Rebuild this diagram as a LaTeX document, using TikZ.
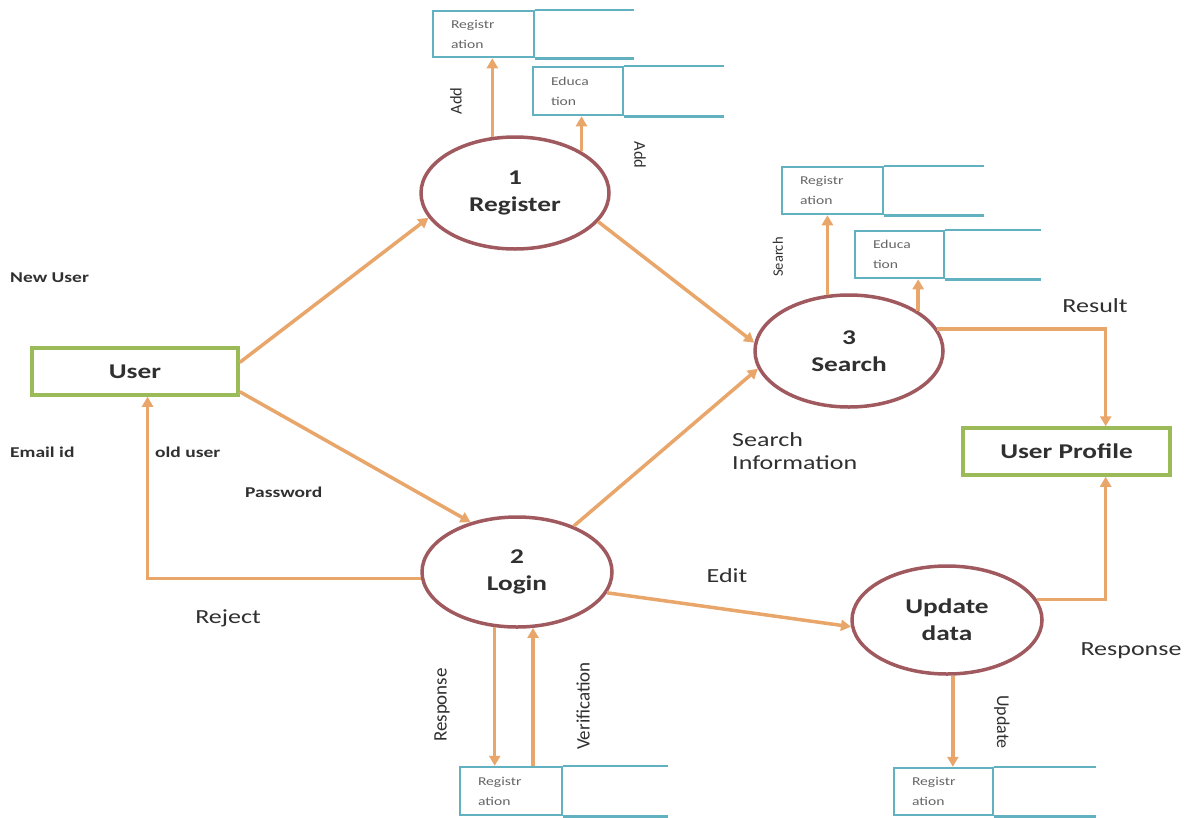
\documentclass[tikz,border=0pt]{standalone}
\usepackage{fontspec}
\setmainfont{Carlito}[FakeStretch=1.3]
\newfontfamily\rotfont{Carlito}
\usetikzlibrary{shapes.geometric,arrows.meta,calc}
\definecolor{flowcol}{HTML}{E9A66A}
\definecolor{proccol}{HTML}{A05A5F}
\definecolor{storecol}{HTML}{62B1C0}
\definecolor{entcol}{HTML}{9BBB59}
\definecolor{txt}{HTML}{303030}
\definecolor{stxt}{HTML}{666666}
\begin{document}
\begin{tikzpicture}[x=1pt,y=-1pt,
 proc/.style={ellipse,draw=proccol,line width=3.5pt,fill=white,inner sep=0pt,align=center,font=\bfseries\fontsize{21}{27}\selectfont,text=txt},
 ent/.style={rectangle,draw=entcol,line width=3.5pt,fill=white,inner sep=0pt,font=\bfseries\fontsize{21}{25}\selectfont,text=txt},
 storebox/.style={rectangle,draw=storecol,line width=2.5pt,inner xsep=18pt,inner ysep=0pt,align=left,font=\fontsize{12}{20}\selectfont,text=stxt},
 storeline/.style={draw=storecol,line width=2.5pt},
 flow/.style={draw=flowcol,line width=3.5pt,-{Triangle[length=10pt,width=11pt]}},
 lab/.style={font=\fontsize{20}{23}\selectfont,text=txt},
 small/.style={font=\bfseries\fontsize{15}{18}\selectfont,text=txt},
 rlab/.style={font=\rotfont\fontsize{19}{22}\selectfont,text=txt}]
\useasboundingbox[fill=white] (0,0) rectangle (1190,817);

% processes
\node[proc,minimum width=188pt,minimum height=112pt] (reg) at (515,193) {1\\Register};
\node[proc,minimum width=190pt,minimum height=110pt] (login) at (517,572) {2\\Login};
\node[proc,minimum width=188pt,minimum height=112pt] (search) at (849,351) {3\\Search};
\node[proc,minimum width=190pt,minimum height=108pt] (upd) at (947,620) {Update\\data};

% entities
\node[ent,minimum width=206pt,minimum height=47pt] (user) at (135,371.5) {User};
\node[ent,minimum width=207pt,minimum height=47pt] (prof) at (1066.5,451.5) {User Profile};

% data stores
\node[storebox,text width=65pt,minimum height=46pt] (sA) at (483.5,34) {Registr\\ation};
\draw[storeline] (sA.north east) -- ++(99,0) (sA.south east) -- ++(99,0);
\node[storebox,text width=54pt,minimum height=48pt] (sB) at (578,91) {Educa\\tion};
\draw[storeline] (sB.north east) -- ++(100,0) (sB.south east) -- ++(100,0);
\node[storebox,text width=65pt,minimum height=47pt] (sC) at (832.5,190.5) {Registr\\ation};
\draw[storeline] (sC.north east) -- ++(100,0) (sC.south east) -- ++(100,0);
\node[storebox,text width=53pt,minimum height=47pt] (sD) at (899.5,254.5) {Educa\\tion};
\draw[storeline] (sD.north east) -- ++(96,0) (sD.south east) -- ++(96,0);
\node[storebox,text width=66pt,minimum height=48pt] (sE) at (511,791) {Registr\\ation};
\draw[storeline] (sE.north east) -- ++(105,0) (sE.south east) -- ++(105,0);
\node[storebox,text width=63pt,minimum height=47pt] (sF) at (943.5,791.5) {Registr\\ation};
\draw[storeline] (sF.north east) -- ++(102,0) (sF.south east) -- ++(102,0);

% helper coordinates
\coordinate (ur) at ($(user.north east)!0.32!(user.south east)$);
\coordinate (ul) at ($(user.north east)!0.9!(user.south east)$);
\coordinate (ub) at ($(user.south west)!0.56!(user.south east)$);
\coordinate (pt) at ($(prof.north west)!0.686!(prof.north east)$);
\coordinate (pb) at ($(prof.south west)!0.686!(prof.south east)$);

% flows
\draw[flow] (reg.112) -- (reg.112 |- sA.south);
\draw[flow] (reg.32) -- (reg.32 |- sB.south);
\draw[flow] (search.111) -- (search.111 |- sC.south);
\draw[flow] (search.30) -- (search.30 |- sD.south);
\draw[flow] (ur) -- (reg.196);
\draw[flow] (ul) -- (login.133);
\draw[flow] (reg.-19) -- (search.175);
\draw[flow] (login.39) -- (search.191);
\draw[flow] (search.14) -| (pt);
\draw[flow] (upd.13) -| (pb);
\draw[flow] (login.184) -| (ub);
\draw[flow] (login.-13) -- (upd.184);
\draw[flow] (login.248) -- (login.248 |- sE.north);
\draw[flow] (login.286 |- sE.north) -- (login.286);
\draw[flow] (upd.276) -- (upd.276 |- sF.north);

% labels
\node[rlab,font=\rotfont\fontsize{16.5}{19}\selectfont,rotate=90] (lAdd1) at (456,101) {Add};
\node[rlab,font=\rotfont\fontsize{16.5}{19}\selectfont,rotate=-90] (lAdd2) at (640,155) {Add};
\node[rlab,font=\rotfont\fontsize{14.5}{17}\selectfont,rotate=90] (lSearch) at (778,257) {Search};
\node[lab] (lResult) at (1095,306) {Result};
\node[small,anchor=west,inner sep=0pt] (lNew) at (10,278) {New User};
\node[small,anchor=west,inner sep=0pt] (lEmail) at (10,452) {Email id};
\node[small,anchor=west,inner sep=0pt] (lOld) at (155,452) {old user};
\node[small,anchor=west,inner sep=0pt] (lPass) at (245,492) {Password};
\node[lab,anchor=west,align=left,inner sep=0pt] (lInfo) at (732,451) {Search\\Information};
\node[lab] (lEdit) at (727,576) {Edit};
\node[lab] (lReject) at (228,618) {Reject};
\node[rlab,rotate=90] (lResp1) at (442,705) {Response};
\node[rlab,rotate=90] (lVer) at (583,706) {Verification};
\node[rlab,font=\rotfont\fontsize{18}{21}\selectfont,rotate=-90] (lUpd) at (1002,722) {Update};
\node[lab] (lResp2) at (1131,651) {Response};
\end{tikzpicture}
\end{document}
